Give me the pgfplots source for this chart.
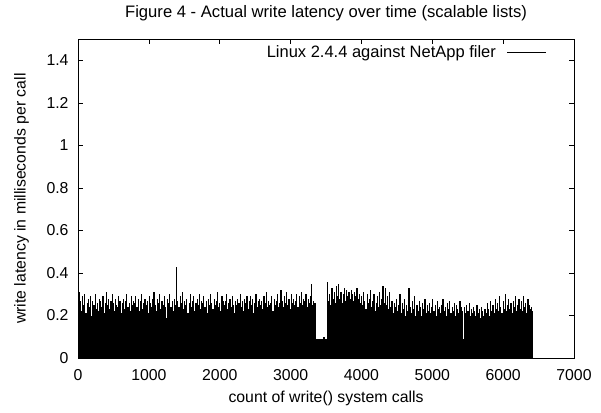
\documentclass[border=0pt]{standalone}
\usepackage{fontspec}
\setmainfont{Liberation Sans}
\usepackage{pgfplots}
\pgfplotsset{compat=1.18}

\begin{document}
\begin{tikzpicture}
\fontsize{11.7}{13}\selectfont
\begin{axis}[
    scale only axis,
    width=367pt, height=236pt,
    xmin=0, xmax=7000, ymin=0, ymax=1.5,
    xtick={0,1000,...,7000},
    ytick={0,0.2,...,1.4},
    tick align=inside,
    major tick length=3.7pt,
    tick style={black, line width=0.5pt},
    axis line style={black, line width=0.6pt},
    /pgf/number format/assume math mode=true,
    /pgf/number format/.cd, 1000 sep={}, /pgfplots/.cd,
    ticklabel style={font=\fontsize{11.7}{13}\selectfont},
    xticklabel style={yshift=-4pt},
    yticklabel style={xshift=-3pt},
    title={Figure 4 - Actual write latency over time (scalable lists)},
    title style={font=\fontsize{12.3}{14}\selectfont, at={(axis description cs:0.5,1)}, anchor=base, yshift=9.8pt},
    xlabel={count of write() system calls},
    ylabel={write latency in milliseconds per call},
    xlabel style={at={(axis description cs:0.5,0)}, anchor=center, yshift=-29.6pt},
    ylabel style={at={(axis description cs:-0.114,0.5)}, anchor=center},
    label style={font=\fontsize{11.7}{13}\selectfont},
    legend plot pos=right,
    legend style={draw=none, fill=none, at={(0.9535,1)}, anchor=east, yshift=-9.9pt,
        font=\fontsize{12.2}{14}\selectfont},
    legend image code/.code={\draw[black, line width=0.5pt] (0cm,0cm) -- (1.02cm,0cm);},
]
\coordinate (bl) at (rel axis cs:0,0);
\coordinate (tr) at (rel axis cs:1,1);
\addplot[ycomb, black, line width=0.86pt, mark=none] coordinates {
(0,0.44)(16,0.31)(32,0.27)(48,0.22)(64,0.29)(80,0.25)(96,0.30)(112,0.21)(128,0.26)(144,0.28)
(160,0.24)(176,0.29)(192,0.20)(208,0.27)(224,0.25)(240,0.30)(256,0.23)(272,0.26)(288,0.22)(304,0.28)
(320,0.27)(336,0.24)(352,0.29)(368,0.21)(384,0.26)(400,0.31)(416,0.25)(432,0.28)(448,0.23)(464,0.27)
(480,0.30)(496,0.26)(512,0.22)(528,0.28)(544,0.25)(560,0.24)(576,0.29)(592,0.27)(608,0.21)(624,0.26)
(640,0.28)(656,0.23)(672,0.27)(688,0.30)(704,0.24)(720,0.26)(736,0.22)(752,0.29)(768,0.25)(784,0.27)
(800,0.26)(816,0.29)(832,0.24)(848,0.28)(864,0.22)(880,0.27)(896,0.30)(912,0.23)(928,0.26)(944,0.28)
(960,0.25)(976,0.27)(992,0.21)(1008,0.29)(1024,0.26)(1040,0.24)(1056,0.28)(1072,0.31)(1088,0.25)(1104,0.22)
(1120,0.28)(1136,0.26)(1152,0.30)(1168,0.23)(1184,0.27)(1200,0.25)(1216,0.29)(1232,0.24)(1248,0.19)(1264,0.28)
(1280,0.26)(1296,0.30)(1312,0.24)(1328,0.27)(1344,0.22)(1360,0.28)(1376,0.25)(1392,0.43)(1408,0.27)(1424,0.24)
(1440,0.29)(1456,0.26)(1472,0.31)(1488,0.23)(1504,0.27)(1520,0.25)(1536,0.28)(1552,0.21)(1568,0.26)(1584,0.30)
(1600,0.24)(1616,0.27)(1632,0.29)(1648,0.22)(1664,0.26)(1680,0.28)(1696,0.25)(1712,0.30)(1728,0.23)(1744,0.27)
(1760,0.26)(1776,0.29)(1792,0.24)(1808,0.27)(1824,0.21)(1840,0.28)(1856,0.25)(1872,0.30)(1888,0.26)(1904,0.23)
(1920,0.28)(1936,0.25)(1952,0.27)(1968,0.31)(1984,0.24)(2000,0.26)(2016,0.22)(2032,0.29)(2048,0.27)(2064,0.25)
(2080,0.27)(2096,0.30)(2112,0.23)(2128,0.26)(2144,0.28)(2160,0.24)(2176,0.29)(2192,0.25)(2208,0.21)(2224,0.27)
(2240,0.25)(2256,0.28)(2272,0.26)(2288,0.30)(2304,0.24)(2320,0.27)(2336,0.22)(2352,0.28)(2368,0.26)(2384,0.29)
(2400,0.23)(2416,0.27)(2432,0.29)(2448,0.25)(2464,0.28)(2480,0.21)(2496,0.26)(2512,0.30)(2528,0.24)(2544,0.27)
(2560,0.28)(2576,0.25)(2592,0.27)(2608,0.23)(2624,0.29)(2640,0.26)(2656,0.31)(2672,0.24)(2688,0.27)(2704,0.25)
(2720,0.26)(2736,0.29)(2752,0.22)(2768,0.28)(2784,0.25)(2800,0.27)(2816,0.30)(2832,0.24)(2848,0.26)(2864,0.32)
(2880,0.27)(2896,0.24)(2912,0.29)(2928,0.26)(2944,0.31)(2960,0.25)(2976,0.28)(2992,0.23)(3008,0.30)(3024,0.26)
(3040,0.28)(3056,0.25)(3072,0.27)(3088,0.30)(3104,0.24)(3120,0.29)(3136,0.26)(3152,0.31)(3168,0.25)(3184,0.28)
(3200,0.27)(3216,0.30)(3232,0.24)(3248,0.28)(3264,0.26)(3280,0.29)(3296,0.35)(3312,0.25)(3328,0.27)(3344,0.26)
(3360,0.09)(3376,0.09)(3392,0.09)(3408,0.09)(3424,0.09)(3440,0.09)(3456,0.09)(3472,0.10)(3488,0.09)(3504,0.09)
(3520,0.36)(3536,0.27)(3552,0.30)(3568,0.25)(3584,0.33)(3600,0.28)(3616,0.31)(3632,0.26)(3648,0.34)(3664,0.29)
(3680,0.35)(3696,0.28)(3712,0.31)(3728,0.26)(3744,0.30)(3760,0.33)(3776,0.27)(3792,0.32)(3808,0.29)(3824,0.31)
(3840,0.28)(3856,0.32)(3872,0.30)(3888,0.27)(3904,0.31)(3920,0.29)(3936,0.33)(3952,0.28)(3968,0.30)(3984,0.26)
(4000,0.29)(4016,0.25)(4032,0.31)(4048,0.27)(4064,0.23)(4080,0.30)(4096,0.26)(4112,0.28)(4128,0.32)(4144,0.24)
(4160,0.27)(4176,0.30)(4192,0.22)(4208,0.26)(4224,0.29)(4240,0.24)(4256,0.31)(4272,0.25)(4288,0.28)(4304,0.34)
(4320,0.26)(4336,0.33)(4352,0.25)(4368,0.29)(4384,0.23)(4400,0.31)(4416,0.24)(4432,0.27)(4448,0.21)(4464,0.26)
(4480,0.24)(4496,0.28)(4512,0.22)(4528,0.25)(4544,0.30)(4560,0.21)(4576,0.26)(4592,0.23)(4608,0.28)(4624,0.20)
(4640,0.25)(4656,0.22)(4672,0.33)(4688,0.24)(4704,0.21)(4720,0.27)(4736,0.23)(4752,0.29)(4768,0.20)(4784,0.25)
(4800,0.22)(4816,0.27)(4832,0.24)(4848,0.20)(4864,0.26)(4880,0.23)(4896,0.28)(4912,0.21)(4928,0.25)(4944,0.22)
(4960,0.26)(4976,0.21)(4992,0.24)(5008,0.28)(5024,0.22)(5040,0.25)(5056,0.20)(5072,0.27)(5088,0.23)(5104,0.24)
(5120,0.21)(5136,0.25)(5152,0.28)(5168,0.22)(5184,0.24)(5200,0.20)(5216,0.26)(5232,0.23)(5248,0.27)(5264,0.21)
(5280,0.24)(5296,0.22)(5312,0.26)(5328,0.20)(5344,0.25)(5360,0.23)(5376,0.21)(5392,0.27)(5408,0.24)(5424,0.22)
(5440,0.09)(5456,0.24)(5472,0.21)(5488,0.25)(5504,0.22)(5520,0.26)(5536,0.20)(5552,0.23)(5568,0.21)(5584,0.24)
(5600,0.22)(5616,0.20)(5632,0.25)(5648,0.21)(5664,0.23)(5680,0.19)(5696,0.24)(5712,0.22)(5728,0.20)(5744,0.23)
(5760,0.21)(5776,0.26)(5792,0.23)(5808,0.20)(5824,0.27)(5840,0.22)(5856,0.25)(5872,0.21)(5888,0.28)(5904,0.23)
(5920,0.26)(5936,0.22)(5952,0.29)(5968,0.24)(5984,0.21)(6000,0.27)(6016,0.23)(6032,0.30)(6048,0.22)(6064,0.25)
(6080,0.28)(6096,0.23)(6112,0.26)(6128,0.21)(6144,0.27)(6160,0.24)(6176,0.29)(6192,0.22)(6208,0.25)(6224,0.28)
(6240,0.23)(6256,0.27)(6272,0.22)(6288,0.29)(6304,0.24)(6320,0.26)(6336,0.21)(6352,0.28)(6368,0.25)(6384,0.23)
(6400,0.24)(6416,0.22)
};
\addlegendentry{Linux 2.4.4 against NetApp filer\hspace*{6pt}}
\end{axis}
\path (bl) ++(-57.8pt,-40pt) coordinate (pbl);
\path (tr) ++(20pt,29pt) coordinate (ptr);
\pgfresetboundingbox
\useasboundingbox (pbl) rectangle (ptr);
\end{tikzpicture}
\end{document}
